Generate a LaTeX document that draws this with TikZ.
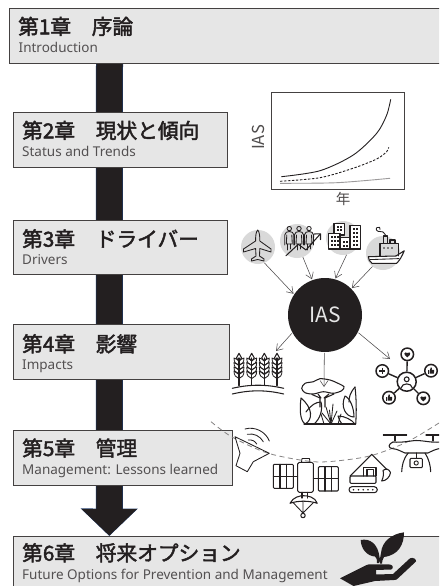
\documentclass[tikz,border=0pt]{standalone}
\usepackage{fontspec}
\setmainfont{Noto Sans CJK JP}
\newfontfamily\headfont[FakeBold=2.2]{Noto Sans CJK JP}
\newfontfamily\subfont{Noto Sans}
\usetikzlibrary{arrows.meta,calc}
\definecolor{ink}{HTML}{231F20}
\definecolor{panel}{HTML}{E6E6E6}
\definecolor{disc}{HTML}{D9D9D9}
\definecolor{shaftedge}{HTML}{1F3A68}
\newcommand{\hearticon}{\fill[ink] (0,3.4) .. controls (-5.2,0) and (-3.4,-3.6) .. (0,-1.4) .. controls (3.4,-3.6) and (5.2,0) .. cycle;}
\newcommand{\thumbicon}{\fill[ink] (-3.6,-0.4) rectangle (-2,3.2); \fill[ink] (-1.4,-0.4) -- (-0.2,-3.6) -- (0.9,-3.3) -- (0.8,-0.9) -- (3.6,-0.9) -- (3.2,3.2) -- (-1.4,3.2) -- cycle;}
\tikzset{
  chapbox/.style={draw=ink!85,fill=panel,line width=1pt,rectangle,anchor=north west,inner sep=0pt},
  chaptitle/.style={anchor=base west,inner sep=0pt,text=ink,font=\headfont\fontsize{20.7}{24}\selectfont},
  chapsub/.style={anchor=base west,inner sep=0pt,text=ink!78,font=\subfont\fontsize{13.5}{15}\selectfont},
  source/.style={circle,fill=disc,minimum size=34pt,inner sep=0pt},
  link/.style={draw=ink!80,line width=.55pt,-{Straight Barb[length=6pt,width=8pt,line width=.55pt]}},
  glyph/.style={draw=ink,line width=1.05pt,line join=round,line cap=round},
  thinglyph/.style={draw=ink,line width=.85pt,line join=round,line cap=round},
  peer/.style={circle,draw=ink,line width=1.5pt,fill=white,minimum size=12.5pt,inner sep=0pt},
}
\begin{document}
\begin{tikzpicture}[x=1pt,y=-1pt]
\useasboundingbox (0,0) rectangle (439,586);
\clip (0,0) rectangle (439,586);
\fill[white] (0,0) rectangle (439,586);

% reading order: shaft from the first chapter down to the last
\coordinate (shafttop) at (109.5,63);
\coordinate (shafttip) at (109.3,536);
\draw[shaftedge,line width=27pt,-{Triangle[length=27.5pt,width=55.5pt]}] (shafttop) -- (shafttip);
\draw[ink,line width=26pt,-{Triangle[length=26.4pt,width=53.6pt]}] (shafttop) -- ($(shafttip)+(0,-.5)$);

% chapter panels
\node[chapbox,minimum width=440pt,minimum height=55pt] (ch1) at (9,8.4) {};
\node[chapbox,minimum width=214.5pt,minimum height=55pt] (ch2) at (12.5,111.8) {};
\node[chapbox,minimum width=214.5pt,minimum height=54.6pt] (ch3) at (12.5,219.8) {};
\node[chapbox,minimum width=216.8pt,minimum height=55pt] (ch4) at (12.5,324.4) {};
\node[chapbox,minimum width=219.5pt,minimum height=55pt] (ch5) at (12.5,430) {};
\node[chapbox,minimum width=440pt,minimum height=60pt] (ch6) at (12.5,535.8) {};

\node[chaptitle] (t1) at (18,34.3) {第1章　序論};
\node[chapsub] (s1) at (18.5,52.3) {Introduction};
\node[chaptitle] (t2) at (22,138.3) {第2章　現状と傾向};
\node[chapsub] (s2) at (22,156.7) {Status and Trends};
\node[chaptitle] (t3) at (22,246.7) {第3章　ドライバー};
\node[chapsub] (s3) at (22,264.3) {Drivers};
\node[chaptitle] (t4) at (22,351.7) {第4章　影響};
\node[chapsub] (s4) at (22,369.3) {Impacts};
\node[chaptitle] (t5) at (22,456) {第5章　管理};
\node[chapsub] (s5) at (22,474) {Management: Lessons learned};
\node[chaptitle] (t6) at (22,560.7) {第6章　将来オプション};
\node[chapsub] (s6) at (22,579.3) {Future Options for Prevention and Management};

% growth chart
\node[draw=ink!85,line width=1pt,minimum width=133pt,minimum height=96.5pt,inner sep=0pt,anchor=north west] (chart) at (271,92) {};
\draw[ink,line width=.9pt] plot[smooth] coordinates {(281.3,176.7) (320,170.7) (353.3,155) (376.7,133.3) (386.7,115) (390.7,99.3)};
\draw[ink,line width=.9pt,dash pattern=on 2.4pt off 1.6pt] plot[smooth] coordinates {(280,181.3) (320,177.7) (353,168.3) (376.7,159) (386.7,151.7) (388.7,147.3)};
\draw[ink!45,line width=.9pt] plot[smooth] coordinates {(280,183.3) (336.7,182.7) (390,178.3)};
\node[rotate=90,text=ink!80,font=\fontsize{16.5}{18}\selectfont,inner sep=0pt] (yaxis) at (258,137.5) {IAS};
\node[text=ink!80,font=\fontsize{14.5}{16}\selectfont,inner sep=0pt] (xaxis) at (343,199) {年};

% driver discs and the central IAS disc
\node[source] (plane) at (258,247) {};
\node[source] (people) at (297,241) {};
\node[source] (city) at (343,238) {};
\node[source] (ship) at (383,253) {};
\node[circle,fill=ink,minimum size=74pt,inner sep=0pt,outer sep=1pt,text=panel,font=\fontsize{21}{24}\selectfont] (ias) at (325,315) {IAS};

\coordinate (wheattip) at (276,351);
\coordinate (foresttip) at (324,387);
\coordinate (nettip) at (390,359);
\draw[link] (plane.-68) -- (ias.146);
\draw[link] (people.-70) -- (ias.110);
\draw[link] (city.-78) -- (ias.74);
\draw[link] (ship.-128) -- (ias.45);
\draw[link] (ias.-151) -- (wheattip);
\draw[link] (ias.-91) -- (foresttip);
\draw[link] (ias.-28) -- (nettip);

% aeroplane
\draw[thinglyph] (257.7,230) .. controls (255.8,232) and (255.6,236) .. (255.6,241) -- (243.5,249) -- (243.5,252) -- (255.6,248.5) -- (256,256) -- (251.5,259) -- (251.5,261) -- (257.7,259.5) -- (264,261) -- (264,259) -- (259.5,256) -- (259.8,248.5) -- (271,252) -- (271,249) -- (259.8,241) .. controls (259.8,236) and (259.6,232) .. (257.7,230) -- cycle;

% crowd with a rising trend
\foreach \px in {289.3,299,309}{
  \begin{scope}[shift={(\px,0)}]
    \draw[thinglyph] (0,228.6) circle (2.2);
    \draw[thinglyph] (-4.5,245) -- (-4.6,235) .. controls (-4.6,232.5) and (-2,231.5) .. (0,231.5) .. controls (2,231.5) and (4.6,232.5) .. (4.6,235) -- (4.5,245);
    \draw[thinglyph] (-2.5,235) -- (-3,244) -- (3,244) -- (2.5,235);
    \draw[thinglyph] (-1.5,244) -- (-1.5,250) (1.5,244) -- (1.5,249);
  \end{scope}
}
\draw[glyph] (286,255.7) -- (298.3,244.3) -- (306,250) -- (320,234.3);
\draw[glyph] (314.5,234) -- (320.5,233.8) -- (320.5,239.5);

% city blocks
\foreach \xa/\ya/\xb/\yb in {334/223.3/344.3/235, 328.3/233.3/340/249, 340/237.7/350/249, 350/225.7/360.7/249}{
  \draw[glyph,fill=white] (\xa,\ya) rectangle (\xb,\yb);
}
\foreach \wx/\wy in {336.5/226,339.5/226,336.5/229,339.5/229,
  330.5/236,333.5/236,336.5/236,330.5/240,333.5/240,336.5/240,330.5/244,333.5/244,336.5/244,
  342.5/241,345.5/241,342.5/245,345.5/245,
  352.5/228,355.5/228,352.5/232,355.5/232,352.5/236,355.5/236,352.5/240,355.5/240,352.5/244,355.5/244}{
  \fill[ink] (\wx,\wy) rectangle ++(2,2);
}

% cargo ship
\draw[glyph,fill=white] (368.3,256.7) -- (396,256) -- (404.3,250.7) .. controls (402,256) and (400,260) .. (396.7,263.3) -- (372,263.3) .. controls (369.5,262) and (368.6,259) .. (368.3,256.7) -- cycle;
\draw[thinglyph] (370,259.6) -- (399,258.6);
\draw[glyph] (380,256.3) -- (380,243.3) -- (398.3,243.3) -- (398.3,255.8);
\draw[glyph] (383.3,243.3) -- (383.3,236) -- (387.7,236) -- (387.7,243.3);
\draw[glyph] (390,243.3) -- (390,240) -- (395,240) -- (395,243.3);
\draw[thinglyph] (385.5,235) .. controls (383,232) and (383,231) .. (380,231.5) .. controls (377,232) and (375,229) .. (377,227.5) .. controls (379,226) and (381,228) .. (380,229.5);
\foreach \wx in {384,388,392}{\fill[ink] (\wx,248) circle (.9);}

% wheat field
\foreach \sx in {239,251.7,264.3,277}{
  \begin{scope}[shift={(\sx,0)}]
    \draw[glyph] (0,358) -- (0,385.5);
    \draw[glyph] (0,353.3) -- (-2.6,358) -- (0,361) -- (2.6,358) -- cycle;
    \foreach \gy in {361,365.5,370,374}{
      \draw[thinglyph] (0,\gy+4.5) .. controls (-3,\gy+3.5) and (-5,\gy+1.5) .. (-5,\gy-3) .. controls (-3,\gy-2.5) and (-1,\gy-1) .. (0,\gy);
      \draw[thinglyph] (0,\gy+4.5) .. controls (3,\gy+3.5) and (5,\gy+1.5) .. (5,\gy-3) .. controls (3,\gy-2.5) and (1,\gy-1) .. (0,\gy);
    }
  \end{scope}
}
\draw[glyph] (232.3,388.3) .. controls (250,384.2) and (266,384.2) .. (283.7,388.3);
\draw[glyph] (232.3,394) .. controls (250,389.8) and (266,389.8) .. (283.7,394);

% forest
\draw[glyph] plot[smooth cycle] coordinates {(301.7,388.3) (305,383.3) (313.3,381.7) (320,378.7) (330,380) (336.7,382.7) (344,386.7) (341.7,390.7) (333.3,393.3) (323.3,391.7) (313.3,394) (305,392.7)};
\draw[glyph] (312,394.5) -- (320,398) -- (320,407) (334,394) -- (325,398) -- (325,407) (318,394) -- (321,398) (329,394) -- (324,398);
\draw[glyph] (301,398) .. controls (299.5,410) and (300,420) .. (305,424) .. controls (313,420) and (313,408) .. (301,398) -- cycle;
\draw[glyph] (306,412) .. controls (311,405) and (316,402) .. (321,402) .. controls (323,410) and (320,419) .. (314,424);
\draw[glyph] (355,387) .. controls (350,393) and (349,397) .. (349,402);
\draw[glyph] (355,387) .. controls (356.5,400) and (356.5,412) .. (355.7,424);
\draw[glyph] (345,396) .. controls (350,398) and (354,408) .. (354,417) .. controls (346,417) and (340,407) .. (345,396) -- cycle;
\draw[glyph] (338,416) .. controls (345,416) and (352,420) .. (355,424) -- (342,424) .. controls (340,422) and (339,419) .. (338,416) -- cycle;
\foreach \gx/\gy in {322/413,326/407,329.5/410,333/404,337/411}{
  \draw[thinglyph] (331,424) -- (\gx,\gy);
}
\draw[thinglyph] (324,424) -- (321,414) (338,424) -- (341,414);
\draw[glyph] (304,424) -- (355.7,424);

% stakeholder network
\node[circle,draw=ink,line width=1.5pt,fill=white,minimum size=19pt,inner sep=0pt] (hub) at (406.7,381.7) {};
\node[peer] (n1) at (407.3,354.3) {};
\node[peer] (n2) at (382.3,371) {};
\node[peer] (n3) at (431,370.7) {};
\node[peer] (n4) at (389,397.7) {};
\node[peer] (n5) at (423.3,398.3) {};
\foreach \leaf in {n1,n2,n3,n4,n5}{\draw[ink,line width=1.4pt] (hub) -- (\leaf);}
\draw[ink,line width=1.1pt] (406.7,379.3) circle (2.4);
\draw[ink,line width=1.1pt] (401,388) .. controls (402,382.5) and (411.5,382.5) .. (412.4,388);
\begin{scope}[shift={(407.3,354.3)},scale=.9]\hearticon\end{scope}
\begin{scope}[shift={(423.3,398.3)},scale=.9]\hearticon\end{scope}
\begin{scope}[shift={(431,370.7)},scale=.9]\thumbicon\end{scope}
\begin{scope}[shift={(389,397.7)},scale=.9]\thumbicon\end{scope}
\draw[ink,line width=1.3pt] (379.2,371) -- (385.4,371) (382.3,367.9) -- (382.3,374.1);

% survey arc
\draw[ink!55,line width=.8pt,dash pattern=on 5pt off 3.6pt] plot[smooth] coordinates {(211,421.7) (232,437) (268.3,453.3) (313.3,461.7) (345,460) (373.3,455) (407,442) (439,423)};

% signal cone and waves
\draw[thinglyph] (235,436.7) -- (269.3,453.3) -- (253.3,461.7) -- (247.3,471.7) -- (236,465.7) -- (240,453.3) -- cycle;
\draw[thinglyph] (245,429) .. controls (255,426) and (266,432) .. (269.3,441);
\draw[thinglyph] (247.3,434.3) .. controls (254,433) and (260,436) .. (263.3,441.7);
\draw[thinglyph] (248.3,440) .. controls (252,439.5) and (255,441) .. (256.7,444);

% satellite
\draw[glyph,rounded corners=1.5pt] (297.7,462.3) rectangle (313.3,492.3);
\draw[thinglyph] (301.5,462.3) -- (302,458.5) -- (309.5,458.5) -- (310,462.3);
\draw[glyph,rounded corners=1pt] (273.3,464.3) rectangle (293.3,488.3);
\draw[glyph] (280,464.3) -- (280,488.3) (286.6,464.3) -- (286.6,488.3) (273.3,476.3) -- (293.3,476.3);
\draw[glyph,rounded corners=1pt] (318.3,466.7) rectangle (338.3,491);
\draw[glyph] (325,466.7) -- (325,491) (331.6,466.7) -- (331.6,491) (318.3,478.8) -- (338.3,478.8);
\draw[glyph] (293.3,476.7) -- (297.7,476.7) (313.3,478.3) -- (318.3,478.3);
\draw[glyph] (302,492.3) -- (302,498) (307.5,492.3) -- (307.5,498);
\draw[glyph] (290,503.3) .. controls (293,497) and (300,495.7) .. (303.5,495.7) .. controls (308,495.7) and (315,497) .. (317.3,503.3) .. controls (309,500.5) and (298,500.5) .. (290,503.3) -- cycle;
\draw[thinglyph] (293.5,503) -- (303,513) -- (313.5,502.5) (303,501) -- (303,513);
\draw[glyph] (303,515.5) circle (2.2);

% excavator
\draw[glyph,rounded corners=1pt] (350,476) rectangle (376,483.3);
\draw[glyph] (363.3,476) -- (363.3,467.3) -- (376,467.3) -- (376,476) (367,476) -- (367,469.5) -- (373.5,469.5) -- (373.5,476);
\draw[glyph] (350,476) -- (371.7,454.3) -- (387,469.5);
\draw[glyph] (383,470.5) .. controls (386,468) and (389,469) .. (390.5,472.5) .. controls (390,477) and (386,481) .. (381.7,481) .. controls (383.5,477) and (384,473) .. (383,470.5) -- cycle;
\draw[glyph,rounded corners=3pt] (349,486.7) rectangle (377.3,492.7);
\foreach \dx in {353.5,358.5,363.2,368,372.7}{\fill[ink] (\dx,489.7) circle (.9);}

% drone
\draw[glyph] (393,442) .. controls (402,443) and (412,440.5) .. (416,440.5) .. controls (424,440.5) and (432,443) .. (440,442);
\draw[glyph] (393,442) .. controls (388,444) and (388,448) .. (392,448.5) .. controls (398,449) and (402,452) .. (405,453) -- (428,453) .. controls (432,451) and (436,449) .. (440,448.5);
\draw[glyph] (383.3,435) -- (406.7,435) (426,435) -- (440,435);
\draw[glyph] (395,435) -- (395,441) (433,435) -- (433,441);
\draw[glyph] (408.3,453) .. controls (403,459) and (402,466) .. (401.7,471.7);
\draw[glyph] (425,453) .. controls (429,459) and (430.5,466) .. (430.7,471.7);
\draw[glyph] (416.3,453) -- (416.3,458.3);
\draw[glyph,rounded corners=1pt] (410,458.3) rectangle (422.3,467.7);
\draw[ink,line width=.9pt] (416.2,463) circle (2.1);

% open hand holding a seedling
\fill[ink] (360.7,540) .. controls (370,538) and (378,544) .. (379.5,557) .. controls (381,559) and (380,562) .. (379,563) -- (377,563) .. controls (377,559) and (376.5,558) .. (375,556.5) .. controls (367,556) and (361,549) .. (360.7,540) -- cycle;
\fill[ink] (404,532.3) .. controls (404,544) and (399,555) .. (384,557) .. controls (382.5,559) and (382,562) .. (382,563.5) -- (380,563.5) .. controls (379.8,559) and (380.2,556) .. (381,553) .. controls (382,541) and (392,534) .. (404,532.3) -- cycle;
\fill[ink] (340,578.3) -- (363.3,566.7) .. controls (368,564) and (370,564) .. (373.3,564.3) -- (390,564.5) .. controls (393.5,565) and (393.5,569) .. (391,569.5) -- (376,570) -- (376,574.5) -- (393,574) -- (410,558.3) .. controls (413,557) and (416.5,559) .. (416,561.5) -- (398,578.3) .. controls (397,579.5) and (396,580) .. (394,580) -- (375,581) -- (353.5,586) -- cycle;
\end{tikzpicture}
\end{document}
